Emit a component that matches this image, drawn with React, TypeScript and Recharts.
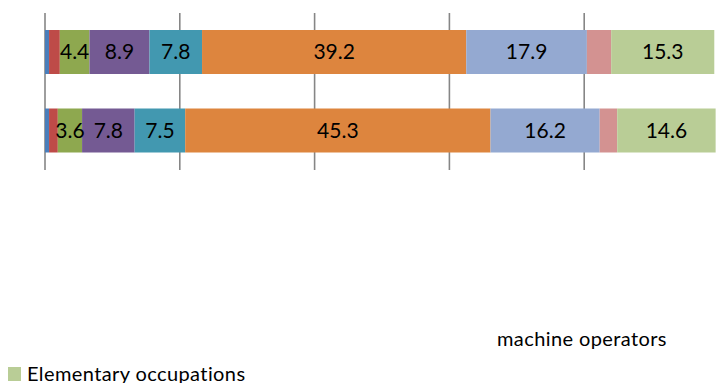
import React from 'react'
import { BarChart, Bar, XAxis, YAxis, CartesianGrid, LabelList } from 'recharts'

const periods = ['Census 1', 'Census 2']
const armedForces = [0.6, 0.6]
const managers = [1.6, 1.3]
const professionals = [4.4, 3.6]
const technicians = [8.9, 7.8]
const clerks = [7.8, 7.5]
const agriculture = [39.2, 45.3]
const crafts = [17.9, 16.2]
const operators = [3.6, 2.6]
const elementary = [15.3, 14.6]
const xTicks = [0, 20, 40, 60, 80, 100]

const data = periods.map((p, i) => ({
  period: p,
  armedForces: armedForces[i],
  managers: managers[i],
  professionals: professionals[i],
  technicians: technicians[i],
  clerks: clerks[i],
  agriculture: agriculture[i],
  crafts: crafts[i],
  operators: operators[i],
  elementary: elementary[i],
}))

const series = [
  { key: 'armedForces', name: 'Armed forces', color: '#4a7ebb', label: false },
  { key: 'managers', name: 'Legislators, senior officials and managers', color: '#be4b48', label: false },
  { key: 'professionals', name: 'Professionals', color: '#8ea84f', label: true },
  { key: 'technicians', name: 'Technicians and associate professionals', color: '#745a93', label: true },
  { key: 'clerks', name: 'Clerks', color: '#4298b0', label: true },
  { key: 'agriculture', name: 'Skilled agricultural and fishery workers', color: '#dd853e', label: true },
  { key: 'crafts', name: 'Craft and related trades workers', color: '#94a9d1', label: true },
  { key: 'operators', name: 'Plant and machine operators', color: '#d39291', label: false },
  { key: 'elementary', name: 'Elementary occupations', color: '#b9cd96', label: true },
]

const font = 'Lato, "Open Sans", sans-serif'

// only the tail of the legend is visible in the frame
const CroppedLegend = () => (
  <div style={{ position: 'absolute', left: 0, top: 0, width: 716, height: 383, fontFamily: font, fontSize: 20, letterSpacing: 0.4, color: '#000', pointerEvents: 'none' }}>
    <span style={{ position: 'absolute', left: 497, top: 326 }}>machine operators</span>
    <span style={{ position: 'absolute', left: 8, top: 367, width: 13, height: 14, background: '#b9cd96' }} />
    <span style={{ position: 'absolute', left: 27, top: 361 }}>Elementary occupations</span>
  </div>
)

export default function App() {
  return (
    <div style={{ position: 'absolute', left: 0, top: 0, width: 716, height: 383, overflow: 'hidden', background: '#fff' }}>
      <BarChart
        width={720}
        height={383}
        data={data}
        layout="vertical"
        margin={{ top: 13, right: 1, bottom: 213, left: 45 }}
        barSize={44}
      >
        <CartesianGrid horizontal={false} stroke="#868686" strokeWidth={1.6} />
        <XAxis type="number" domain={[0, 100]} ticks={xTicks} hide />
        <YAxis type="category" dataKey="period" hide />
        {series.map((s) => (
          <Bar key={s.key} dataKey={s.key} name={s.name} stackId="a" fill={s.color} isAnimationActive={false}>
            {s.label && (
              <LabelList
                dataKey={s.key}
                position="center"
                formatter={(v: number) => v.toFixed(1)}
                style={{ fill: '#000', fontSize: 21, fontFamily: font }}
              />
            )}
          </Bar>
        ))}
      </BarChart>
      <CroppedLegend />
    </div>
  )
}
